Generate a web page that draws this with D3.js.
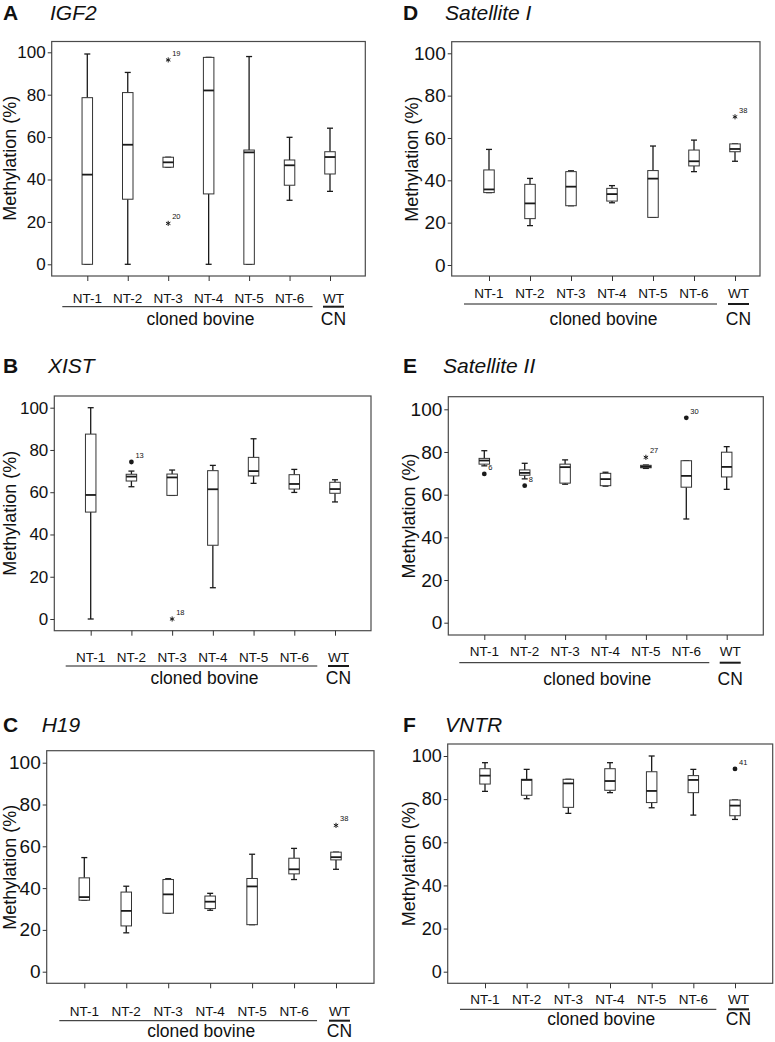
<!DOCTYPE html>
<html>
<head>
<meta charset="utf-8">
<script src="https://cdn.jsdelivr.net/npm/d3@7"></script>
<style>
  body { margin: 0; background: #fff; }
  text { font-family: "Liberation Sans", Arial, sans-serif; fill: #111; }
</style>
</head>
<body>
<script>
// groups on the x axis, same in every panel
const groups = ["NT-1", "NT-2", "NT-3", "NT-4", "NT-5", "NT-6", "WT"];
const clonedGroups = ["NT-1", "NT-2", "NT-3", "NT-4", "NT-5", "NT-6"];
const yTicks = [0, 20, 40, 60, 80, 100];

// box stats per group: [low whisker, q1, median, q3, high whisker]
const igf2Stats = [
  [0, 0, 42.3, 78.6, 99.2],
  [0, 30.7, 56.4, 81, 90.5],
  [45.8, 45.8, 48.1, 50.5, 50.5],
  [0, 33.2, 82, 97.6, 97.6],
  [0, 0, 52.8, 53.9, 98],
  [30.2, 37.3, 46.7, 49.2, 59.9],
  [34.4, 42.6, 50.6, 53.1, 64.2]
];
const igf2Outliers = [
  { g: "NT-3", v: 96.4, id: "19", kind: "star" },
  { g: "NT-3", v: 19.3, id: "20", kind: "star" }
];

const xistStats = [
  [0, 50.6, 58.7, 87.5, 100],
  [62.6, 65.3, 67.4, 68.5, 70],
  [58.5, 58.5, 67, 68.6, 70.5],
  [14.8, 34.9, 61.4, 70.2, 72.7],
  [64.2, 67.7, 70, 76.5, 85.3],
  [59.9, 61.5, 63.9, 68.3, 70.8],
  [55.4, 59.5, 61.5, 64.7, 65.9]
];
const xistOutliers = [
  { g: "NT-2", v: 74.3, id: "13", kind: "dot" },
  { g: "NT-3", v: 0, id: "18", kind: "star" }
];

const h19Stats = [
  [34.2, 34.2, 35.7, 44.9, 54.6],
  [18.6, 21.9, 29.1, 38.1, 40.9],
  [28, 28, 37, 44.1, 44.5],
  [29.4, 30.2, 33.5, 36.2, 37.5],
  [22.5, 22.5, 40.8, 44.6, 56.2],
  [44.1, 46.8, 49, 54.3, 59],
  [49, 53.5, 54.8, 57.2, 57.2]
];
const h19Outliers = [
  { g: "WT", v: 70, id: "38", kind: "star" }
];

const sat1Stats = [
  [34.2, 34.2, 35.7, 44.9, 54.6],
  [18.6, 21.9, 29.1, 38.1, 40.9],
  [28, 28, 37, 44.1, 44.5],
  [29.4, 30.2, 33.5, 36.2, 37.5],
  [22.5, 22.5, 40.8, 44.6, 56.2],
  [44.1, 46.8, 49, 54.3, 59],
  [49, 53.5, 54.8, 57.2, 57.2]
];
const sat1Outliers = [
  { g: "WT", v: 70, id: "38", kind: "star" }
];

const sat2Stats = [
  [73.5, 74.3, 76, 77, 80.6],
  [67.4, 69.1, 70.2, 71.6, 74.7],
  [64.9, 65.4, 72.9, 74.3, 76.3],
  [64, 64.2, 67.3, 70, 70.5],
  [72.3, 72.6, 73.1, 73.75, 73.9],
  [48.6, 63.5, 68.8, 75.9, 75.9],
  [62.5, 68.3, 73, 79.9, 82.5]
];
const sat2Outliers = [
  { g: "NT-1", v: 69.7, id: "6", kind: "dot" },
  { g: "NT-2", v: 64.2, id: "8", kind: "dot" },
  { g: "NT-5", v: 77.5, id: "27", kind: "star" },
  { g: "NT-6", v: 96, id: "30", kind: "dot" }
];

const vntrStats = [
  [83.6, 87, 90.9, 94.1, 96.9],
  [80.2, 81.8, 88.9, 89.2, 93.8],
  [73.4, 76.2, 87.3, 89.2, 89.2],
  [83, 84.1, 88.4, 94.1, 96.9],
  [76, 78.4, 83.8, 92.7, 100],
  [72.6, 83, 88.9, 90.9, 93.8],
  [70.6, 72.3, 77, 79.6, 79.6]
];
const vntrOutliers = [
  { g: "WT", v: 94, id: "41", kind: "dot" }
];

const panels = [
  { letter: "A", gene: "IGF2", stats: igf2Stats, outliers: igf2Outliers,
    left: 51.7, top: 41.5, right: 365.3, bottom: 276, y0: 264.3, y100: 52.3, x0: 87.3, x1: 330,
    tickBase: 303, underY: 306.7, cbBase: 325, titleBase: 19.5, letterX: 3, geneX: 50, yLabX: 10, yFont: 17 },
  { letter: "B", gene: "XIST", stats: xistStats, outliers: xistOutliers,
    left: 54.3, top: 396, right: 371, bottom: 630.7, y0: 619, y100: 407.7, x0: 90.7, x1: 335,
    tickBase: 661.7, underY: 666, cbBase: 683.5, titleBase: 373.3, letterX: 3, geneX: 48, yLabX: 10, yFont: 17 },
  { letter: "C", gene: "H19", stats: h19Stats, outliers: h19Outliers,
    left: 46.7, top: 750.7, right: 374, bottom: 983.3, y0: 971.7, y100: 762.7, x0: 84.3, x1: 336,
    tickBase: 1016, underY: 1020.7, cbBase: 1037, titleBase: 731.7, letterX: 3, geneX: 41.7, yLabX: 10, yFont: 19 },
  { letter: "D", gene: "Satellite I", stats: sat1Stats, outliers: sat1Outliers,
    left: 451.7, top: 41.7, right: 760, bottom: 276, y0: 265, y100: 53.3, x0: 489, x1: 735,
    tickBase: 298.3, underY: 304, cbBase: 325, titleBase: 19.5, letterX: 403, geneX: 445, yLabX: 412, yFont: 19 },
  { letter: "E", gene: "Satellite II", stats: sat2Stats, outliers: sat2Outliers,
    left: 448.3, top: 396.7, right: 763.3, bottom: 635, y0: 622.7, y100: 409.3, x0: 484.3, x1: 726.7,
    tickBase: 656, underY: 662.7, cbBase: 685, titleBase: 373.3, letterX: 403, geneX: 443, yLabX: 409, yFont: 19 },
  { letter: "F", gene: "VNTR", stats: vntrStats, outliers: vntrOutliers,
    left: 447.7, top: 744, right: 772.7, bottom: 983.3, y0: 971.7, y100: 756, x0: 485, x1: 735,
    tickBase: 1004, underY: 1009.3, cbBase: 1025, titleBase: 731.7, letterX: 403, geneX: 445, yLabX: 409, yFont: 18 }
];

const ink = "#1a1a1a";
const boxW = 10.5, capW = 6;

const svg = d3.select("body").append("svg")
  .attr("width", 775).attr("height", 1042);
svg.append("rect").attr("width", 775).attr("height", 1042).attr("fill", "#fff");

function drawPanel(p) {
  const g = svg.append("g");
  const y = d3.scaleLinear().domain([0, 100]).range([p.y0, p.y100]);
  const x = d3.scalePoint().domain(groups).range([p.x0, p.x1]);

  // titles
  g.append("text").attr("x", p.letterX).attr("y", p.titleBase)
    .attr("font-size", 21).attr("font-weight", "bold").text(p.letter);
  g.append("text").attr("x", p.geneX).attr("y", p.titleBase)
    .attr("font-size", 21).attr("font-style", "italic").text(p.gene);

  // frame
  g.append("rect")
    .attr("x", p.left).attr("y", p.top)
    .attr("width", p.right - p.left).attr("height", p.bottom - p.top)
    .attr("fill", "none").attr("stroke", "#4a4a4a").attr("stroke-width", 1.2);

  // y axis
  const ya = g.append("g").attr("transform", "translate(" + p.left + ",0)")
    .call(d3.axisLeft(y).tickValues(yTicks).tickSize(4).tickPadding(2));
  ya.select(".domain").remove();
  ya.selectAll("line").attr("stroke", "#333");
  ya.selectAll("text").attr("font-size", p.yFont).attr("font-family", "Liberation Sans, Arial, sans-serif").attr("fill", "#111");

  // x axis ticks only
  const xa = g.append("g").attr("transform", "translate(0," + p.bottom + ")")
    .call(d3.axisBottom(x).tickSize(5).tickFormat(""));
  xa.select(".domain").remove();
  xa.selectAll("line").attr("stroke", "#333");

  // y label
  g.append("text")
    .attr("transform", "translate(" + p.yLabX + "," + ((p.y0 + p.y100) / 2) + ") rotate(-90)")
    .attr("text-anchor", "middle").attr("dominant-baseline", "central")
    .attr("font-size", 18).text("Methylation (%)");

  // group labels
  g.selectAll(".glab").data(groups).enter().append("text")
    .attr("x", d => x(d) + (d === "WT" ? 3.5 : 0))
    .attr("y", p.tickBase)
    .attr("text-anchor", "middle").attr("font-size", 13.5)
    .text(d => d);

  // underlines
  g.append("line")
    .attr("x1", x(clonedGroups[0]) - 25).attr("x2", x(clonedGroups[5]) + 23)
    .attr("y1", p.underY).attr("y2", p.underY)
    .attr("stroke", ink).attr("stroke-width", 1);
  g.append("line")
    .attr("x1", x("WT") - 7).attr("x2", x("WT") + 14)
    .attr("y1", p.underY).attr("y2", p.underY)
    .attr("stroke", ink).attr("stroke-width", 2);
  g.append("text")
    .attr("x", (x(clonedGroups[0]) + x(clonedGroups[5])) / 2 + 12)
    .attr("y", p.cbBase).attr("text-anchor", "middle").attr("font-size", 17.5)
    .text("cloned bovine");
  g.append("text")
    .attr("x", x("WT") + 3.5).attr("y", p.cbBase)
    .attr("text-anchor", "middle").attr("font-size", 17.5).text("CN");

  // boxes
  const rows = p.stats.map((s, i) => ({ g: groups[i], s: s }));
  const b = g.selectAll(".box").data(rows).enter().append("g");

  b.append("line")
    .attr("x1", d => x(d.g)).attr("x2", d => x(d.g))
    .attr("y1", d => y(d.s[3])).attr("y2", d => y(d.s[4]))
    .attr("stroke", ink).attr("stroke-width", 1.3);
  b.append("line")
    .attr("x1", d => x(d.g)).attr("x2", d => x(d.g))
    .attr("y1", d => y(d.s[0])).attr("y2", d => y(d.s[1]))
    .attr("stroke", ink).attr("stroke-width", 1.3);
  [0, 4].forEach(k => {
    b.append("line")
      .attr("x1", d => x(d.g) - capW / 2).attr("x2", d => x(d.g) + capW / 2)
      .attr("y1", d => y(d.s[k])).attr("y2", d => y(d.s[k]))
      .attr("stroke", ink).attr("stroke-width", 1.3);
  });
  b.append("rect")
    .attr("x", d => x(d.g) - boxW / 2).attr("width", boxW)
    .attr("y", d => y(d.s[3])).attr("height", d => Math.max(0.5, y(d.s[1]) - y(d.s[3])))
    .attr("fill", "#fff").attr("stroke", "#333").attr("stroke-width", 1);
  b.append("line")
    .attr("x1", d => x(d.g) - boxW / 2).attr("x2", d => x(d.g) + boxW / 2)
    .attr("y1", d => y(d.s[2])).attr("y2", d => y(d.s[2]))
    .attr("stroke", ink).attr("stroke-width", 1.8);

  // outliers
  const o = g.selectAll(".out").data(p.outliers).enter().append("g")
    .attr("transform", d => "translate(" + x(d.g) + "," + y(d.v) + ")");
  o.filter(d => d.kind === "dot").append("circle")
    .attr("r", 2.4).attr("fill", ink);
  o.filter(d => d.kind === "star").append("path")
    .attr("d", d3.symbol(d3.symbolAsterisk).size(18))
    .attr("fill", "none").attr("stroke", ink).attr("stroke-width", 1);
  o.append("text")
    .attr("x", 4).attr("y", -4)
    .attr("font-size", 7.5).attr("fill", "#333")
    .text(d => d.id);
}

panels.forEach(drawPanel);
</script>
</body>
</html>
